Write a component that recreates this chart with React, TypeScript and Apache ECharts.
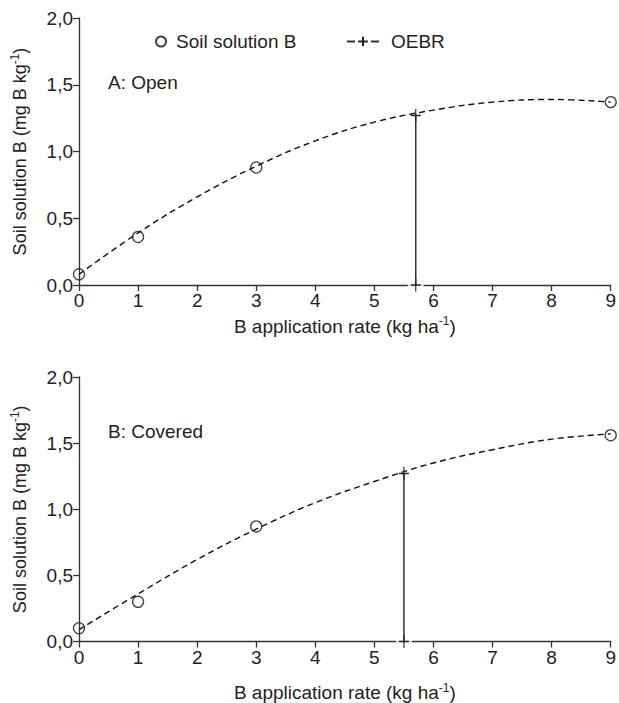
import React, { useEffect, useRef } from "react";
import * as echarts from "echarts";

// Panel A: Open
const pointsX = [0, 1, 3, 9];
const openPoints = [0.08, 0.36, 0.88, 1.37];
const coveredPoints = [0.1, 0.3, 0.87, 1.56];

// fitted curves
const curveX = [0, 1, 2, 3, 4, 5, 6, 7, 8, 9];
const openCurve = [0.08, 0.39, 0.66, 0.89, 1.08, 1.22, 1.31, 1.37, 1.39, 1.37];
const coveredCurve = [0.09, 0.36, 0.62, 0.85, 1.05, 1.21, 1.35, 1.45, 1.53, 1.57];

// OEBR (x, y)
const openOEBR = [5.7, 1.27];
const coveredOEBR = [5.5, 1.27];

const xTicks = [0, 1, 2, 3, 4, 5, 6, 7, 8, 9];
const yTicks = [0, 0.5, 1.0, 1.5, 2.0];

const panelLabels = ["A: Open", "B: Covered"];

const FONT = "Liberation Sans, Arial, sans-serif";
const INK = "#222";
const PLUS = "path://M0,-6 L0,6 M-5,0 L5,0";

export default function App() {
  const ref = useRef<HTMLDivElement>(null);
  useEffect(() => {
    if (!ref.current) return;
    const chart = echarts.init(ref.current, undefined, { renderer: "svg" });
    const axisLine = { show: true, lineStyle: { color: "#333", width: 1.3 } };
    const mkX = (gridIndex: number, nameGap: number) => ({
      type: "value",
      gridIndex,
      min: xTicks[0],
      max: xTicks[xTicks.length - 1],
      interval: 1,
      axisLine: { ...axisLine, onZero: false },
      axisTick: { show: true, inside: false, length: 6, lineStyle: { color: "#333", width: 1.3 } },
      axisLabel: { color: INK, fontSize: 19, fontFamily: FONT, margin: 6 },
      splitLine: { show: false },
      name: "{a|B application rate (kg ha}{s|-1}{a|)}",
      nameLocation: "middle",
      nameGap,
      nameTextStyle: {
        rich: {
          a: { fontSize: 19, fontFamily: FONT, color: INK },
          s: { fontSize: 12, fontFamily: FONT, color: INK, padding: [0, 0, 10, 0] },
        },
      },
    });
    const mkY = (gridIndex: number) => ({
      type: "value",
      gridIndex,
      min: yTicks[0],
      max: yTicks[yTicks.length - 1],
      interval: 0.5,
      axisLine: { ...axisLine, onZero: false },
      axisTick: { show: true, inside: false, length: 6, lineStyle: { color: "#333", width: 1.3 } },
      axisLabel: {
        color: INK,
        fontSize: 19,
        fontFamily: FONT,
        margin: 6,
        formatter: (v: number) => v.toFixed(1).replace(".", ","),
      },
      splitLine: { show: false },
      name: "{a|Soil solution B (mg B kg}{s|-1}{a|)}",
      nameLocation: "middle",
      nameGap: 48,
      nameRotate: 90,
      nameTextStyle: {
        rich: {
          a: { fontSize: 18, fontFamily: FONT, color: INK },
          s: { fontSize: 12, fontFamily: FONT, color: INK, padding: [0, 0, 10, 0] },
        },
      },
    });

    const panelSeries = (idx: number, pts: number[], curve: number[], oebr: number[], withName: boolean) => [
      {
        type: "line",
        name: "curve" + idx,
        xAxisIndex: idx,
        yAxisIndex: idx,
        data: curveX.map((x, i) => [x, curve[i]]),
        smooth: 0.4,
        symbol: "none",
        lineStyle: { color: "#111", width: 1.4, type: [6, 4] },
        z: 2,
      },
      {
        type: "scatter",
        name: withName ? "Soil solution B" : "pts" + idx,
        xAxisIndex: idx,
        yAxisIndex: idx,
        data: pointsX.map((x, i) => [x, pts[i]]),
        symbol: "circle",
        symbolSize: 11,
        itemStyle: { color: "rgba(255,255,255,0)", borderColor: "#111", borderWidth: 1.3 },
        z: 5,
      },
      {
        type: "scatter",
        name: "halo" + idx,
        xAxisIndex: idx,
        yAxisIndex: idx,
        data: [[oebr[0], 0]],
        symbol: "rect",
        symbolSize: [16, 5],
        itemStyle: { color: "#fff" },
        silent: true,
        z: 3,
      },
      {
        type: "line",
        name: withName ? "OEBR" : "oebr" + idx,
        xAxisIndex: idx,
        yAxisIndex: idx,
        data: [[oebr[0], oebr[1]], [oebr[0], 0]],
        symbol: PLUS,
        symbolSize: [10, 13],
        showAllSymbol: true,
        itemStyle: { color: "rgba(0,0,0,0)", borderColor: "#222", borderWidth: 1.3 },
        lineStyle: { color: "#333", width: 1.5, type: "solid" },
        z: 4,
      },
    ];

    chart.setOption({
      animation: false,
      backgroundColor: "#fff",
      grid: [
        { left: 79, top: 18, width: 536, height: 267 },
        { left: 79, top: 377, width: 536, height: 266 },
      ],
      xAxis: [mkX(0, 30), mkX(1, 40)],
      yAxis: [mkY(0), mkY(1)],
      title: [
        { text: panelLabels[0], left: 103, top: 68, textStyle: { fontSize: 19, fontWeight: "normal", fontFamily: FONT, color: INK } },
        { text: panelLabels[1], left: 103, top: 417, textStyle: { fontSize: 19, fontWeight: "normal", fontFamily: FONT, color: INK } },
      ],
      legend: [
        {
          data: [{ name: "Soil solution B", icon: "circle" }],
          left: 150,
          top: 27,
          itemWidth: 20,
          itemHeight: 10,
          textStyle: { fontSize: 19, fontFamily: FONT, color: INK },
          selectedMode: false,
        },
        {
          data: [{ name: "OEBR", lineStyle: { type: [8, 16] } }],
          left: 341,
          top: 27,
          itemWidth: 32,
          itemHeight: 12,
          textStyle: { fontSize: 19, fontFamily: FONT, color: INK, padding: [0, 0, 0, 7] },
          selectedMode: false,
        },
      ],
      series: [
        ...panelSeries(0, openPoints, openCurve, openOEBR, true),
        ...panelSeries(1, coveredPoints, coveredCurve, coveredOEBR, false),
      ],
    });
    return () => chart.dispose();
  }, []);
  return <div ref={ref} style={{ position: "absolute", left: 0, top: 0, width: 619, height: 703 }} />;
}
